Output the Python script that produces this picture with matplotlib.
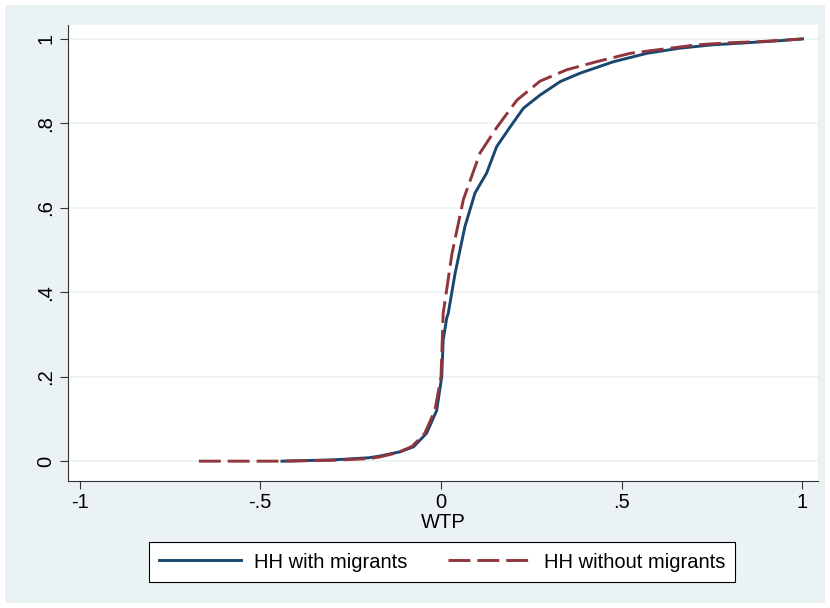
#!/usr/bin/env python3
"""Empirical CDF of WTP for households with and without migrants."""

import matplotlib

matplotlib.use("Agg")
import matplotlib.pyplot as plt
from matplotlib.patches import Rectangle

plt.rcParams["font.family"] = ["Liberation Sans", "DejaVu Sans"]

# cumulative share by WTP, households with migrants
wtp_mig = [-0.44, -0.30, -0.20, -0.17, -0.114, -0.076, -0.04, -0.012, 0.002, 0.006,
           0.016, 0.02, 0.039, 0.066, 0.094, 0.126, 0.154, 0.19, 0.228, 0.274,
           0.33, 0.385, 0.477, 0.57, 0.66, 0.75, 0.847, 0.94, 1.0]
cdf_mig = [0.0, 0.003, 0.008, 0.012, 0.022, 0.034, 0.066, 0.12, 0.20, 0.287,
           0.34, 0.35, 0.445, 0.555, 0.635, 0.682, 0.745, 0.79, 0.836, 0.867,
           0.899, 0.919, 0.946, 0.966, 0.978, 0.986, 0.991, 0.996, 1.0]

# cumulative share by WTP, households without migrants
wtp_nomig = [-0.67, -0.45, -0.30, -0.20, -0.17, -0.12, -0.08, -0.045, -0.017, 0.0,
             0.006, 0.03, 0.062, 0.108, 0.154, 0.21, 0.274, 0.348, 0.43, 0.524,
             0.615, 0.708, 0.80, 0.89, 1.0]
cdf_nomig = [0.0, 0.0, 0.002, 0.006, 0.010, 0.02, 0.035, 0.066, 0.12, 0.20,
             0.35, 0.49, 0.62, 0.73, 0.79, 0.855, 0.90, 0.927, 0.946, 0.966,
             0.976, 0.986, 0.991, 0.994, 1.0]

x_ticks = [-1, -0.5, 0, 0.5, 1]
x_labels = ["-1", "-.5", "0", ".5", "1"]
y_ticks = [0, 0.2, 0.4, 0.6, 0.8, 1]
y_labels = ["0", ".2", ".4", ".6", ".8", "1"]

BG = "#EAF2F3"
NAVY = "#1A476F"
MAROON = "#90353B"

fig = plt.figure(figsize=(8.3, 6.08), dpi=100, facecolor="white")
fig.patches.append(Rectangle((5 / 830, 5 / 608), 820 / 830, 598 / 608,
                             transform=fig.transFigure, facecolor=BG,
                             edgecolor="none", zorder=-10))

ax = fig.add_axes([68 / 830, 1 - 481 / 608, 750 / 830, 456 / 608])
ax.set_facecolor("white")

ax.plot(wtp_mig, cdf_mig, color=NAVY, lw=2.1, label="HH with migrants", zorder=3)
ax.plot(wtp_nomig, cdf_nomig, color=MAROON, lw=2.1, dashes=(7.5, 2.4),
        label="HH without migrants", zorder=4)

ax.set_xlim(-1.032, 1.043)
ax.set_ylim(-0.047, 1.033)
ax.set_xticks(x_ticks)
ax.set_xticklabels(x_labels)
ax.set_yticks(y_ticks)
ax.set_yticklabels(y_labels, rotation=90, va="center")
ax.tick_params(labelsize=14.5, length=5.5, width=0.8, color="#333333")
ax.grid(axis="y", color=BG, lw=1.2)
ax.set_axisbelow(True)

for side in ("top", "right"):
    ax.spines[side].set_visible(False)
for side in ("left", "bottom"):
    ax.spines[side].set_color("#333333")
    ax.spines[side].set_linewidth(0.8)

ax.set_xlabel("WTP", fontsize=14.5, labelpad=0)

leg = fig.legend(loc="center", bbox_to_anchor=(442 / 830, 1 - 562 / 608), ncol=2,
                 fontsize=14.5, frameon=True, fancybox=False, edgecolor="black",
                 handlelength=4.1, handletextpad=0.65, columnspacing=2.0,
                 borderpad=0.5, borderaxespad=0)
leg.get_frame().set_linewidth(0.8)
leg.get_frame().set_facecolor("white")
leg.get_frame().set_alpha(1)

fig.savefig("out.png", dpi=100, facecolor="white")
